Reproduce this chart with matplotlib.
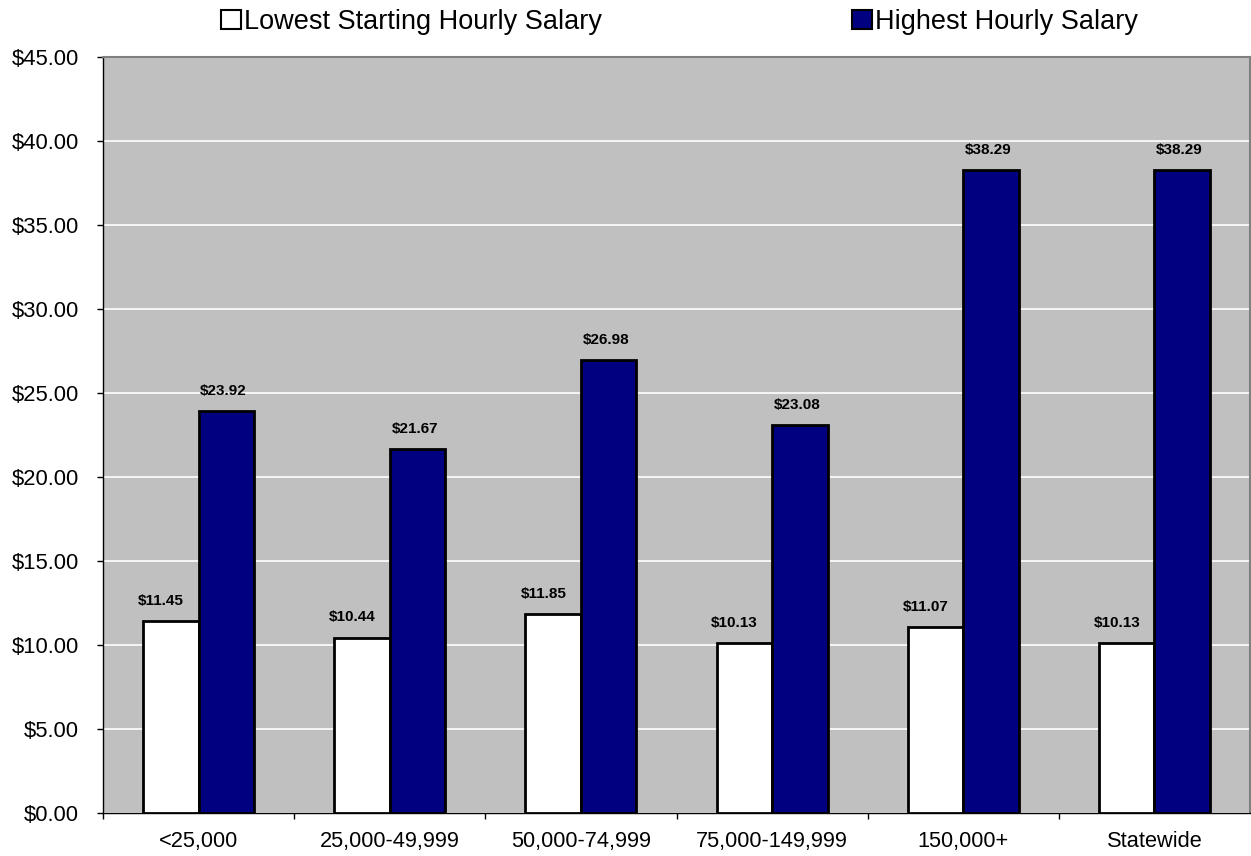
import numpy as np
import matplotlib.pyplot as plt
from matplotlib.patches import Patch
from matplotlib.ticker import MultipleLocator, FuncFormatter

plt.rcParams['font.family'] = ['Liberation Sans', 'DejaVu Sans']

categories = ['<25,000', '25,000-49,999', '50,000-74,999', '75,000-149,999', '150,000+', 'Statewide']
lowest = [11.45, 10.44, 11.85, 10.13, 11.07, 10.13]
highest = [23.92, 21.67, 26.98, 23.08, 38.29, 38.29]

fig = plt.figure(figsize=(12.51, 8.56), dpi=100)
ax = fig.add_axes([103 / 1251, 1 - 813 / 856, 1147 / 1251, 756 / 856])
ax.set_facecolor('#C0C0C0')

x = np.arange(len(categories))
w = 0.29
b1 = ax.bar(x - w / 2, lowest, w, color='white', edgecolor='black', linewidth=2, zorder=3)
b2 = ax.bar(x + w / 2, highest, w, color='#000080', edgecolor='black', linewidth=2, zorder=3)

# Excel-style data labels, nudged a little left like the original
for bars, vals, dx in [(b1, lowest, -7), (b2, highest, -2)]:
    for r, v in zip(bars, vals):
        ax.annotate(f'${v:.2f}', (r.get_x() + r.get_width() / 2, v), xytext=(dx, 14.5),
                    textcoords='offset points', ha='center', va='center',
                    fontsize=11, fontweight='bold', zorder=4)

ax.set_ylim(0, 45)
ax.set_xlim(-0.5, len(categories) - 0.5)
ax.yaxis.set_major_locator(MultipleLocator(5))
ax.yaxis.set_major_formatter(FuncFormatter(lambda v, p: f'${v:.2f}'))
ax.grid(axis='y', color='white', linewidth=1.2, zorder=0)
ax.set_axisbelow(True)

ax.set_xticks(x)
ax.set_xticklabels(categories, fontsize=15.7)
ax.tick_params(axis='x', length=0, pad=13)
ax.set_xticks(np.arange(-0.5, len(categories) - 1), minor=True)
ax.tick_params(axis='x', which='minor', length=4.5, width=1, direction='out')
ax.tick_params(axis='y', labelsize=15.8, length=4.5, width=1, direction='out', pad=13)

for s in ['top', 'right']:
    ax.spines[s].set_color('#808080')
    ax.spines[s].set_linewidth(1.5)
for s in ['left', 'bottom']:
    ax.spines[s].set_color('black')
    ax.spines[s].set_linewidth(1)

handles = [Patch(facecolor='white', edgecolor='black', linewidth=1.5, label='Lowest Starting Hourly Salary'),
           Patch(facecolor='#000080', edgecolor='black', linewidth=1.5, label='Highest Hourly Salary')]
ax.legend(handles=handles, loc='center', bbox_to_anchor=(0.5026, 1 + 35 / 756), ncol=2, frameon=False,
          fontsize=19.5, handlelength=0.74, handleheight=0.74, handletextpad=0.12, columnspacing=9.2,
          borderpad=0, borderaxespad=0)

fig.savefig('out.png', dpi=100)
